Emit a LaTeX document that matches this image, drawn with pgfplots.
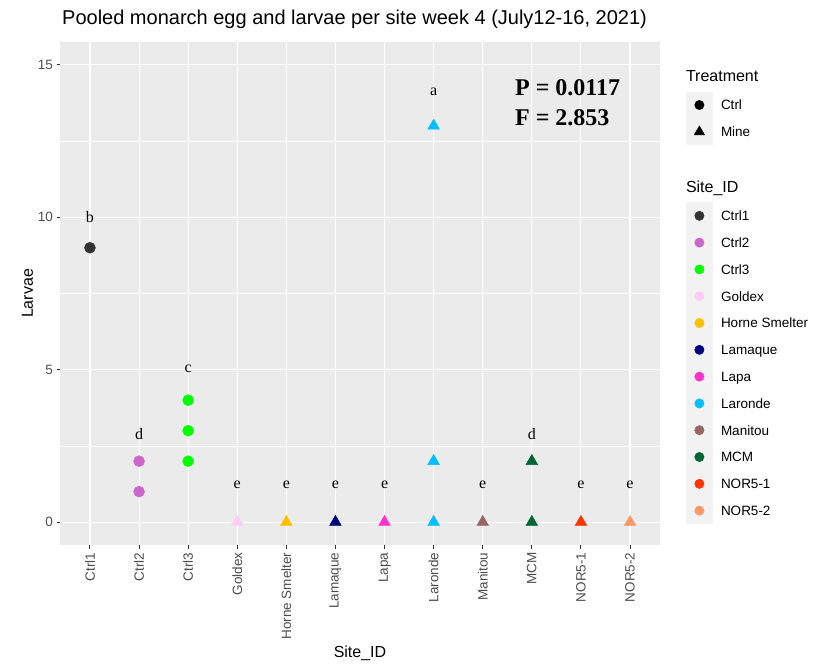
\documentclass[border=0pt]{standalone}
\usepackage{pgfplots}
\pgfplotsset{compat=1.18}
\usepackage{fontspec}
\setmainfont{Liberation Sans}
\newfontfamily\seriffont{Liberation Serif}

\definecolor{panel}{HTML}{EBEBEB}
\definecolor{keybg}{HTML}{F2F2F2}
\definecolor{tickgray}{HTML}{4D4D4D}
\definecolor{tickline}{HTML}{333333}
\definecolor{cCtrlA}{HTML}{333333}
\definecolor{cCtrlB}{HTML}{CC66CC}
\definecolor{cCtrlC}{HTML}{00FF00}
\definecolor{cGoldex}{HTML}{FFCCF5}
\definecolor{cHorne}{HTML}{FFC000}
\definecolor{cLamaque}{HTML}{000080}
\definecolor{cLapa}{HTML}{FF33CC}
\definecolor{cLaronde}{HTML}{00BFFF}
\definecolor{cManitou}{HTML}{996666}
\definecolor{cMCM}{HTML}{006633}
\definecolor{cNORa}{HTML}{FF3300}
\definecolor{cNORb}{HTML}{FF9966}

\pgfplotsset{
  ctrlpt/.style={only marks, mark=*, mark size=5.5pt, color=#1,
    mark options={draw=none, fill=#1}, forget plot},
  minept/.style={only marks, mark=triangle*, mark size=6.8pt, color=#1,
    mark options={draw=none, fill=#1}, forget plot},
  keyimg/.style={legend image code/.code={
      \fill[keybg, draw=none] (-13.4pt,-13.4pt) rectangle (13.4pt,13.4pt);
      \draw[##1] plot coordinates {(0pt,0pt)};}},
  sitekey/.style={keyimg, only marks, mark=*, mark size=4.7pt, color=#1,
    mark options={draw=none, fill=#1}},
  legtitle/.style 2 args={legend image code/.code={
      \path[draw=none, fill=none] (-13.4pt,-15.6pt) rectangle (13.4pt,#2);
      \node[overlay, anchor=base west, inner sep=0pt, text=black, draw=none,
        font=\fontsize{16}{18}\selectfont] at (-13.4pt,-5.75pt) {#1};}},
}

\begin{document}
\begin{tikzpicture}
\path[use as bounding box] (0,0) rectangle (815pt,666pt);

\node[anchor=base west, inner sep=0pt, font=\fontsize{20}{22}\selectfont]
  at (62pt,641.2pt) {Pooled monarch egg and larvae per site week 4 (July12-16, 2021)};

\begin{axis}[
  at={(60.5pt,121pt)}, anchor=south west,
  scale only axis, width=599pt, height=503pt,
  xmin=-0.6, xmax=11.6, ymin=-0.75, ymax=15.75,
  clip=false,
  axis background/.style={fill=panel},
  axis line style={draw=none},
  grid=both,
  major grid style={white, line width=1.1pt},
  minor grid style={white, line width=0.55pt},
  xtick={0,...,11},
  xticklabels={Ctrl1,Ctrl2,Ctrl3,Goldex,Horne Smelter,Lamaque,Lapa,Laronde,Manitou,MCM,NOR5-1,NOR5-2},
  ytick={0,5,10,15},
  minor ytick={2.5,7.5,12.5},
  tick pos=left, tick align=outside,
  major tick length=4pt, minor tick length=0pt,
  tick style={color=tickline, line width=1pt},
  /pgf/number format/assume math mode=true,
  xticklabel style={rotate=90, anchor=east, font=\fontsize{13.5}{16}\selectfont, text=tickgray},
  yticklabel style={font=\fontsize{13.5}{16}\selectfont, text=tickgray},
  xlabel={Site\_ID}, ylabel={Larvae},
  every axis x label/.style={at={(axis description cs:0.5,-0.2127)}, anchor=center,
    font=\fontsize{16}{18}\selectfont, text height=11.5pt, text depth=0pt},
  every axis y label/.style={at={(axis description cs:-0.0559,0.5)}, anchor=center, rotate=90,
    font=\fontsize{16}{18}\selectfont, text height=11.5pt, text depth=0pt},
  legend style={at={(1.04424,0.9438)}, anchor=north west, draw=none, fill=none,
    inner sep=0pt, outer sep=0pt, row sep=0pt, column sep=8.2pt,
    font=\fontsize{13.5}{16}\selectfont,
    nodes={inner sep=0pt, text height=9.7pt, text depth=0pt},
    cells={anchor=west}},
]

% Larvae counts per site (Ctrl sites as circles, mine sites as triangles)
\addplot[ctrlpt=cCtrlA] coordinates {(0,9)};
\addplot[ctrlpt=cCtrlB] coordinates {(1,2) (1,1)};
\addplot[ctrlpt=cCtrlC] coordinates {(2,2) (2,3) (2,4)};
\addplot[minept=cGoldex] coordinates {(3,0)};
\addplot[minept=cHorne] coordinates {(4,0)};
\addplot[minept=cLamaque] coordinates {(5,0)};
\addplot[minept=cLapa] coordinates {(6,0)};
\addplot[minept=cLaronde] coordinates {(7,0) (7,2) (7,13)};
\addplot[minept=cManitou] coordinates {(8,0)};
\addplot[minept=cMCM] coordinates {(9,0) (9,2)};
\addplot[minept=cNORa] coordinates {(10,0)};
\addplot[minept=cNORb] coordinates {(11,0)};

% significance groups
\begin{scope}[every node/.style={font=\seriffont\fontsize{16}{18}\selectfont}]
\node at (axis cs:0,10.02) {b};
\node at (axis cs:1,2.9) {d};
\node at (axis cs:2,5.02) {c};
\node at (axis cs:3,1.21) {e};
\node at (axis cs:4,1.21) {e};
\node at (axis cs:5,1.21) {e};
\node at (axis cs:6,1.21) {e};
\node at (axis cs:7,14.1) {a};
\node at (axis cs:8,1.21) {e};
\node at (axis cs:9,2.9) {d};
\node at (axis cs:10,1.21) {e};
\node at (axis cs:11,1.21) {e};
\end{scope}

\node[anchor=west, inner sep=0pt, font=\seriffont\bfseries\fontsize{24}{28}\selectfont]
  at (axis cs:8.656,14.25) {P = 0.0117};
\node[anchor=west, inner sep=0pt, font=\seriffont\bfseries\fontsize{24}{28}\selectfont]
  at (axis cs:8.656,13.26) {F = 2.853};

% legends: Treatment (shape) and Site_ID (colour)
\addlegendimage{legtitle={Treatment}{5.75pt}}
\addlegendentry{}
\addlegendimage{keyimg, only marks, mark=*, mark size=4.7pt, black}
\addlegendentry{Ctrl}
\addlegendimage{keyimg, only marks, mark=triangle*, mark size=6pt, black}
\addlegendentry{Mine}
\addlegendimage{legtitle={Site\_ID}{41.6pt}}
\addlegendentry{}
\addlegendimage{sitekey=cCtrlA}\addlegendentry{Ctrl1}
\addlegendimage{sitekey=cCtrlB}\addlegendentry{Ctrl2}
\addlegendimage{sitekey=cCtrlC}\addlegendentry{Ctrl3}
\addlegendimage{sitekey=cGoldex}\addlegendentry{Goldex}
\addlegendimage{sitekey=cHorne}\addlegendentry{Horne Smelter}
\addlegendimage{sitekey=cLamaque}\addlegendentry{Lamaque}
\addlegendimage{sitekey=cLapa}\addlegendentry{Lapa}
\addlegendimage{sitekey=cLaronde}\addlegendentry{Laronde}
\addlegendimage{sitekey=cManitou}\addlegendentry{Manitou}
\addlegendimage{sitekey=cMCM}\addlegendentry{MCM}
\addlegendimage{sitekey=cNORa}\addlegendentry{NOR5-1}
\addlegendimage{sitekey=cNORb}\addlegendentry{NOR5-2}
\end{axis}
\end{tikzpicture}
\end{document}
